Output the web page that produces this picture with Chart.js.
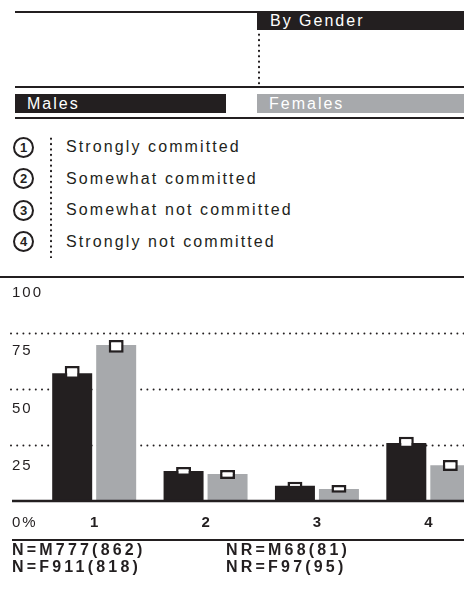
<!DOCTYPE html>
<html><head><meta charset="utf-8">
<script src="https://cdn.jsdelivr.net/npm/chart.js@4.4.1/dist/chart.umd.min.js"></script>
<style>
html,body{margin:0;padding:0;width:464px;height:594px;overflow:hidden;background:#fff;}
body{position:relative;font-family:"Liberation Sans",Arial,Helvetica,sans-serif;color:#231f20;}
.hl{position:absolute;background:#231f20;}
.box{position:absolute;height:19px;line-height:19px;font-size:16px;letter-spacing:2px;color:#fff;box-sizing:border-box;padding-left:12px;white-space:nowrap;}
.vdots{position:absolute;width:4px;background-image:radial-gradient(circle at center,#231f20 0.9px,rgba(0,0,0,0) 1.5px);background-size:4px 5.4px;background-repeat:repeat-y;}
.circ{position:absolute;width:21px;height:21px;border:2.3px solid #231f20;border-radius:50%;box-sizing:border-box;font-weight:bold;font-size:13px;line-height:17px;text-align:center;}
.ltxt{position:absolute;font-size:16px;letter-spacing:2.1px;line-height:20px;white-space:nowrap;}
.foot{position:absolute;font-size:16px;font-weight:bold;letter-spacing:3.2px;line-height:17px;white-space:nowrap;}
#wrap{position:absolute;left:0;top:260px;width:484px;height:320px;}
</style></head>
<body>
<div class="hl" style="left:15px;top:11px;width:242px;height:2px;"></div>
<div class="box" style="left:257px;top:11px;width:207px;background:#231f20;padding-left:13px;">By Gender</div>
<div class="vdots" style="left:257px;top:32px;height:55px;"></div>
<div class="hl" style="left:15px;top:86px;width:449px;height:2.4px;"></div>
<div class="box" style="left:15px;top:94px;width:211px;background:#231f20;" id="maleBox"></div>
<div class="box" style="left:257px;top:94px;width:207px;background:#a7a9ac;" id="femaleBox"></div>
<div class="hl" style="left:15px;top:117px;width:449px;height:2px;"></div>
<div id="legend"></div>
<div class="vdots" style="left:49px;top:136px;height:122px;"></div>
<div id="wrap"><canvas id="c" width="484" height="320"></canvas></div>
<div class="hl" style="left:12px;top:539px;width:452px;height:2px;"></div>
<div id="footer"></div>
<script>
const categories = ['1', '2', '3', '4'];
const categoryNames = ['Strongly committed', 'Somewhat committed', 'Somewhat not committed', 'Strongly not committed'];
const seriesNames = ['Males', 'Females'];
const malesValues = [57, 13.4, 6.8, 25.9];
const femalesValues = [69.6, 12, 5.4, 16];
const malesRangeLow = [54.5, 11.2, 5.7, 23.5];
const malesRangeHigh = [60.3, 15.2, 8.6, 28.7];
const femalesRangeLow = [66.2, 9.8, 3.7, 13.4];
const femalesRangeHigh = [71.9, 13.8, 7.1, 18.3];
const yTickValues = [100, 75, 50, 25];
const yTickLabels = ['100', '75', '50', '25'];
const zeroLabel = '0%';
const footerLeft = ['N=M777(862)', 'N=F911(818)'];
const footerRight = ['NR=M68(81)', 'NR=F97(95)'];

const DARK = '#231f20', GREY = '#a7a9ac';

document.getElementById('maleBox').textContent = seriesNames[0];
document.getElementById('femaleBox').textContent = seriesNames[1];

const legendY = [147.3, 178.7, 210, 241.7];
const lg = document.getElementById('legend');
categoryNames.forEach((name, i) => {
  const c = document.createElement('div');
  c.className = 'circ';
  c.style.left = '13px';
  c.style.top = (legendY[i] - 10.5) + 'px';
  c.textContent = categories[i];
  lg.appendChild(c);
  const t = document.createElement('div');
  t.className = 'ltxt';
  t.style.left = '66px';
  t.style.top = (legendY[i] - 10) + 'px';
  t.textContent = name;
  lg.appendChild(t);
});

const ft = document.getElementById('footer');
[footerLeft, footerRight].forEach((col, ci) => {
  col.forEach((s, ri) => {
    const d = document.createElement('div');
    d.className = 'foot';
    d.style.left = (ci === 0 ? 12 : 226) + 'px';
    d.style.top = (540.5 + ri * 17) + 'px';
    d.textContent = s;
    ft.appendChild(d);
  });
});

const decor = {
  id: 'decor',
  beforeDatasetsDraw(chart) {
    const ctx = chart.ctx, y = chart.scales.y;
    ctx.save();
    ctx.strokeStyle = DARK;
    ctx.lineCap = 'round';
    ctx.lineWidth = 2;
    ctx.setLineDash([0, 6.2]);
    yTickValues.forEach(v => {
      if (v === 100) return;
      const py = Math.round(y.getPixelForValue(v)) + 0.5;
      ctx.beginPath(); ctx.moveTo(11, py); ctx.lineTo(484, py); ctx.stroke();
    });
    ctx.setLineDash([]);
    ctx.lineCap = 'butt';
    const top = y.getPixelForValue(100);
    ctx.beginPath(); ctx.moveTo(0, top); ctx.lineTo(464, top); ctx.stroke();
    ctx.restore();
  },
  afterDatasetsDraw(chart) {
    const ctx = chart.ctx, y = chart.scales.y, x = chart.scales.x;
    ctx.save();
    const base = y.getPixelForValue(0);
    const top = y.getPixelForValue(100);
    ctx.strokeStyle = DARK;
    ctx.lineWidth = 2.5;
    ctx.beginPath(); ctx.moveTo(12, base); ctx.lineTo(464, base); ctx.stroke();
    ctx.fillStyle = DARK;
    ctx.textBaseline = 'middle';
    ctx.textAlign = 'left';
    ctx.font = '15px "Liberation Sans", Arial, sans-serif';
    try { ctx.letterSpacing = '2px'; } catch (e) {}
    yTickValues.forEach((v, i) => {
      const py = y.getPixelForValue(v);
      ctx.fillText(yTickLabels[i], 12, top + (py - top) * 1.031 + 16);
    });
    ctx.fillText(zeroLabel, 12, base + 22);
    ctx.font = 'bold 15px "Liberation Sans", Arial, sans-serif';
    ctx.textAlign = 'center';
    categories.forEach((c, i) => {
      ctx.fillText(c, x.getPixelForValue(i) + 1, base + 22);
    });
    ctx.restore();
  }
};

const toRange = (lo, hi) => lo.map((v, i) => [v, hi[i]]);

new Chart(document.getElementById('c'), {
  type: 'bar',
  data: {
    labels: categories,
    datasets: [
      { label: seriesNames[0], data: malesValues, backgroundColor: DARK, borderWidth: 0, stack: 'm', order: 1, barPercentage: 0.909 },
      { label: seriesNames[1], data: femalesValues, backgroundColor: GREY, borderWidth: 0, stack: 'f', order: 1, barPercentage: 0.909 },
      { label: seriesNames[0] + ' range', data: toRange(malesRangeLow, malesRangeHigh), backgroundColor: '#fff', borderColor: DARK, borderWidth: 2.5, borderSkipped: false, stack: 'm', order: 0, barPercentage: 0.34 },
      { label: seriesNames[1] + ' range', data: toRange(femalesRangeLow, femalesRangeHigh), backgroundColor: '#fff', borderColor: DARK, borderWidth: 2.5, borderSkipped: false, stack: 'f', order: 0, barPercentage: 0.34 }
    ]
  },
  options: {
    responsive: false,
    devicePixelRatio: 1,
    animation: false,
    layout: { padding: { left: 38.5, right: 0, top: 17, bottom: 79 } },
    datasets: { bar: { categoryPercentage: 0.79 } },
    scales: {
      x: { display: false, offset: true, grid: { display: false } },
      y: { display: false, min: 0, max: 100, stacked: false }
    },
    plugins: { legend: { display: false }, tooltip: { enabled: false } }
  },
  plugins: [decor]
});
</script>
</body></html>
